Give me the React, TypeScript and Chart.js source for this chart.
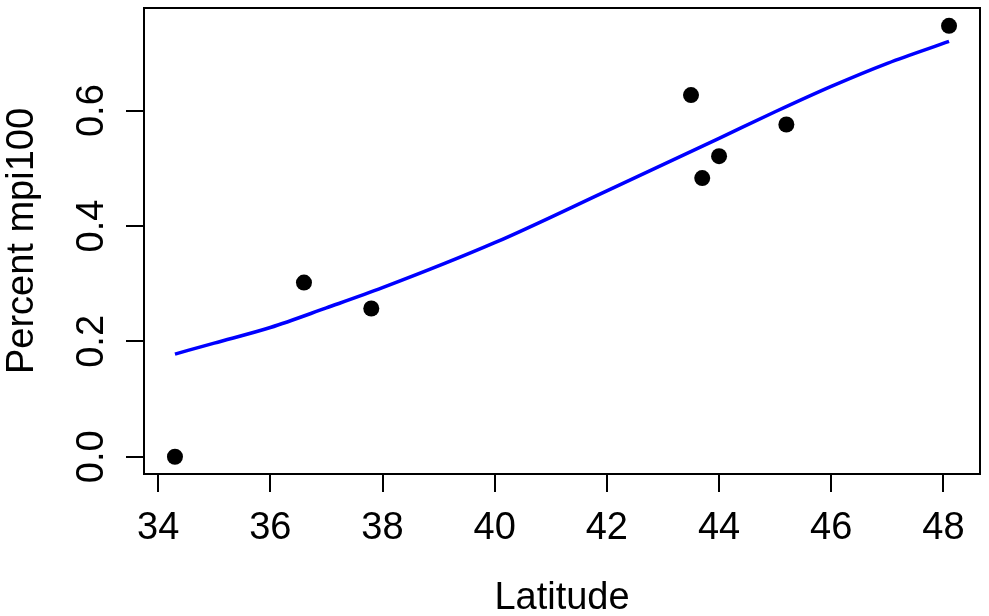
import React, { useRef, useEffect } from 'react'
import Chart from 'chart.js/auto'

// observed points (latitude, proportion)
const pointLat = [34.3, 36.6, 37.8, 43.5, 43.7, 44.0, 45.2, 48.1]
const pointPct = [0.0, 0.302, 0.257, 0.627, 0.483, 0.521, 0.576, 0.747]

// fitted curve
const curveLat = [34.3, 35, 36, 37, 38, 40, 42, 44, 45, 46, 47, 48.1]
const curvePct = [0.178, 0.197, 0.224, 0.258, 0.293, 0.371, 0.461, 0.552, 0.598, 0.642, 0.682, 0.72]

const xTicks = [34, 36, 38, 40, 42, 44, 46, 48]
const yTicks = [0, 0.2, 0.4, 0.6]
const yTickLabels = ['0.0', '0.2', '0.4', '0.6']

const xTitle = 'Latitude'
const yTitle = 'Percent mpi100'

const FONT = '38px "Liberation Sans", Arial, sans-serif'

const textPlugin = {
  id: 'rText',
  afterDraw(chart: any) {
    const ctx = chart.ctx
    const area = chart.chartArea
    const xs = chart.scales.x
    const ys = chart.scales.y
    ctx.save()
    ctx.strokeStyle = '#000'
    ctx.lineWidth = 2
    ctx.strokeRect(area.left, area.top, area.right - area.left, area.bottom - area.top)

    ctx.fillStyle = '#000'
    ctx.font = FONT
    ctx.textAlign = 'center'
    ctx.textBaseline = 'alphabetic'
    xTicks.forEach((v) => {
      ctx.fillText(String(v), xs.getPixelForValue(v), 539)
    })
    ctx.fillText(xTitle, (area.left + area.right) / 2, 609)

    yTicks.forEach((v, i) => {
      ctx.save()
      ctx.translate(103, ys.getPixelForValue(v))
      ctx.rotate(-Math.PI / 2)
      ctx.fillText(yTickLabels[i], 0, 0)
      ctx.restore()
    })
    ctx.save()
    ctx.translate(33, (area.top + area.bottom) / 2)
    ctx.rotate(-Math.PI / 2)
    ctx.fillText(yTitle, 0, 0)
    ctx.restore()
    ctx.restore()
  },
}

export default function App() {
  const chartRef = useRef<HTMLCanvasElement>(null)

  useEffect(() => {
    if (!chartRef.current) return
    const chart = new Chart(chartRef.current, {
      type: 'scatter',
      data: {
        datasets: [
          {
            label: 'points',
            data: pointLat.map((x, i) => ({ x, y: pointPct[i] })),
            backgroundColor: '#000',
            borderColor: '#000',
            pointRadius: 8,
            borderWidth: 0,
            order: 2,
          },
          {
            label: 'fit',
            data: curveLat.map((x, i) => ({ x, y: curvePct[i] })),
            showLine: true,
            borderColor: '#0000ff',
            borderWidth: 3.5,
            pointRadius: 0,
            cubicInterpolationMode: 'monotone',
            order: 1,
          },
        ],
      },
      options: {
        animation: false,
        responsive: true,
        maintainAspectRatio: false,
        layout: { padding: { top: 7, right: 9, left: 0, bottom: 0 } },
        plugins: { legend: { display: false }, tooltip: { enabled: false } },
        scales: {
          x: {
            type: 'linear',
            min: 33.748,
            max: 48.652,
            afterBuildTicks: (s: any) => {
              s.ticks = xTicks.map((value) => ({ value }))
            },
            afterFit: (s: any) => {
              s.height = 142
            },
            ticks: { display: false },
            grid: {
              drawOnChartArea: false,
              drawTicks: true,
              tickLength: 18,
              tickColor: '#000',
              lineWidth: 2,
            },
            border: { display: false },
          },
          y: {
            type: 'linear',
            min: -0.0299,
            max: 0.7779,
            afterBuildTicks: (s: any) => {
              s.ticks = yTicks.map((value) => ({ value }))
            },
            afterFit: (s: any) => {
              s.width = 144
            },
            ticks: { display: false },
            grid: {
              drawOnChartArea: false,
              drawTicks: true,
              tickLength: 18,
              tickColor: '#000',
              lineWidth: 2,
            },
            border: { display: false },
          },
        },
      },
      plugins: [textPlugin],
    })
    return () => chart.destroy()
  }, [])

  return (
    <div style={{ position: 'absolute', left: 0, top: 0, width: 989, height: 616, background: '#fff' }}>
      <canvas ref={chartRef}></canvas>
    </div>
  )
}
